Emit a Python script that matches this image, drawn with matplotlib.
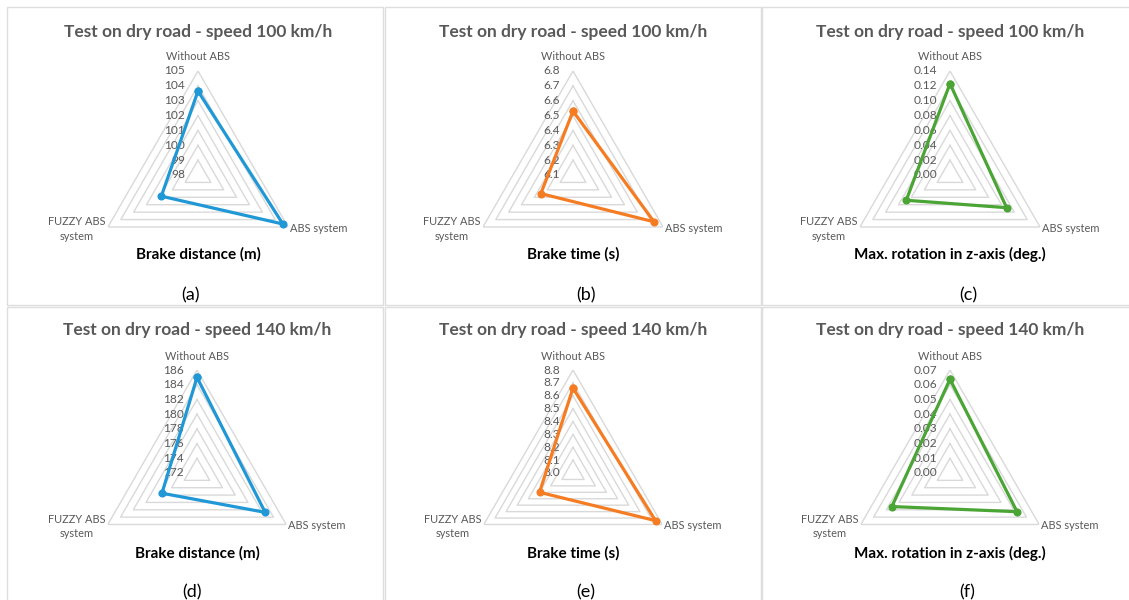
import numpy as np
import matplotlib
matplotlib.use("Agg")
import matplotlib.pyplot as plt
from matplotlib.patches import Rectangle
from matplotlib.transforms import offset_copy

plt.rcParams['font.family'] = ['Lato', 'DejaVu Sans']

# ---- data -------------------------------------------------------------
categories = ["Without ABS", "ABS system", "FUZZY ABS\nsystem"]

distance_100 = [103.65, 104.6, 100.85]
time_100 = [6.53, 6.73, 6.35]
rotation_100 = [0.123, 0.088, 0.068]

distance_140 = [185.0, 182.7, 177.5]
time_140 = [8.66, 8.74, 8.30]
rotation_140 = [0.0637, 0.0526, 0.0456]

ticks_distance_100 = [98, 99, 100, 101, 102, 103, 104, 105]
ticks_time_100 = [6.1, 6.2, 6.3, 6.4, 6.5, 6.6, 6.7, 6.8]
ticks_rotation_100 = [0.00, 0.02, 0.04, 0.06, 0.08, 0.10, 0.12, 0.14]
ticks_distance_140 = [172, 174, 176, 178, 180, 182, 184, 186]
ticks_time_140 = [8.0, 8.1, 8.2, 8.3, 8.4, 8.5, 8.6, 8.7, 8.8]
ticks_rotation_140 = [0.00, 0.01, 0.02, 0.03, 0.04, 0.05, 0.06, 0.07]

titles = ["Test on dry road - speed 100 km/h", "Test on dry road - speed 140 km/h"]
quantities = ["Brake distance (m)", "Brake time (s)", "Max. rotation in z-axis (deg.)"]
letters = ["(a)", "(b)", "(c)", "(d)", "(e)", "(f)"]

# ---- layout (pixels) --------------------------------------------------
W, H = 1129, 600
fig = plt.figure(figsize=(W / 100, H / 100), dpi=100)
fig.patch.set_facecolor("white")

def fx(x):
    return x / W

def fy(y):
    return 1 - y / H

BLUE, ORANGE, GREEN = "#2198d6", "#f57c22", "#4aa535"
GRID = "#d9d9d9"
FRAME = "#dedede"
GREY_TEXT = "#595959"

panels = [
    # values, ticks, fmt, colour, centre x, centre y, radius, row, col
    (distance_100, ticks_distance_100, "{:.0f}", BLUE, 198, 175, 104, 0, 0),
    (time_100, ticks_time_100, "{:.1f}", ORANGE, 573, 175, 104, 0, 1),
    (rotation_100, ticks_rotation_100, "{:.2f}", GREEN, 950, 175, 104, 0, 2),
    (distance_140, ticks_distance_140, "{:.0f}", BLUE, 197, 473, 103, 1, 0),
    (time_140, ticks_time_140, "{:.1f}", ORANGE, 573, 473, 103, 1, 1),
    (rotation_140, ticks_rotation_140, "{:.2f}", GREEN, 950, 473, 103, 1, 2),
]

# panel frames
col_edges = [(7, 383), (385, 761), (762, 1140)]
row_edges = [(7, 305), (307, 612)]
for (y0, y1) in row_edges:
    for (x0, x1) in col_edges:
        fig.add_artist(Rectangle((fx(x0), fy(y1)), fx(x1 - x0), (y1 - y0) / H,
                                 transform=fig.transFigure, fill=False,
                                 edgecolor=FRAME, linewidth=1.0))

title_y = [32, 330]
without_gap = [15, 14]
quantity_y = [254, 553]
letter_pos = [(190, 295), (586, 295), (968, 295), (192, 592), (586, 592), (967, 592)]

theta = np.deg2rad([0, 120, 240])
theta_closed = np.append(theta, theta[0])

for i, (vals, ticks, fmt, colour, cx, cy, R, row, col) in enumerate(panels):
    ax = fig.add_axes([fx(cx - R), fy(cy + R), 2 * R / W, 2 * R / H], projection="polar")
    ax.set_theta_zero_location("N")
    ax.set_theta_direction(-1)
    ax.set_ylim(ticks[0], ticks[-1])
    ax.grid(False)
    ax.spines["polar"].set_visible(False)
    ax.set_xticks([])
    ax.set_yticks([])
    ax.patch.set_alpha(0)

    # triangular gridlines
    for t in ticks[1:]:
        ax.plot(theta_closed, [t] * 4, color=GRID, lw=1.0, zorder=1)

    # radial value labels
    lab_tr = offset_copy(ax.transData, fig=fig, x=-13, y=0, units="dots")
    for t in ticks:
        ax.text(0, t, fmt.format(t), transform=lab_tr, ha="right", va="center",
                fontsize=8.6, color=GREY_TEXT, zorder=2)

    # series
    v = list(vals) + [vals[0]]
    ax.plot(theta_closed, v, color=colour, lw=2.3, marker="o", markersize=4.8,
            zorder=3, clip_on=False)

    # category labels
    rmax = ticks[-1]
    t_top = offset_copy(ax.transData, fig=fig, x=0, y=without_gap[row], units="dots")
    ax.text(0, rmax, categories[0], transform=t_top, ha="center", va="center",
            fontsize=7.9, color=GREY_TEXT)
    t_right = offset_copy(ax.transData, fig=fig, x=2, y=-1, units="dots")
    ax.text(theta[1], rmax, categories[1], transform=t_right, ha="left", va="center",
            fontsize=7.9, color=GREY_TEXT)
    t_left = offset_copy(ax.transData, fig=fig, x=-31, y=-2, units="dots")
    ax.text(theta[2], rmax, categories[2], transform=t_left, ha="center", va="center",
            fontsize=7.9, color=GREY_TEXT, multialignment="center", linespacing=1.35)

    # panel texts
    fig.text(fx(cx), fy(title_y[row]), titles[row], ha="center", va="center",
             fontsize=12.5, fontweight="bold", color=GREY_TEXT)
    fig.text(fx(cx), fy(quantity_y[row]), quantities[col], ha="center", va="center",
             fontsize=11, fontweight="bold", color="black")
    lx, ly = letter_pos[i]
    fig.text(fx(lx), fy(ly), letters[i], ha="center", va="center",
             fontsize=13, color="black")

fig.savefig("out.png", dpi=100, facecolor="white")
